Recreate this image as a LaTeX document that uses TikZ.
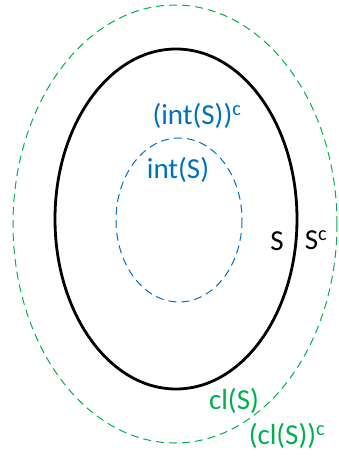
\documentclass[tikz,border=0pt]{standalone}
\usepackage{fontspec}
\setmainfont{Carlito}
\definecolor{cBlue}{HTML}{0070C0}
\definecolor{cGreen}{HTML}{00B050}
\tikzset{
  lbl/.style={inner sep=0pt,font=\fontsize{29}{32}\selectfont},
  setline/.style={draw=black,line width=2.8pt},
  intline/.style={draw=cBlue,dash pattern=on 8pt off 5pt,line width=1pt},
  clline/.style={draw=cGreen,dash pattern=on 8pt off 5pt,line width=1pt},
}
\begin{document}
\begin{tikzpicture}[x=1pt,y=-1pt]
  \useasboundingbox (0,0) rectangle (338,456);
  % sets
  \draw[clline]  (175,224) ellipse [x radius=162,y radius=219];
  \draw[setline] (176,219) ellipse [x radius=121,y radius=170];
  \draw[intline] (179,220) ellipse [x radius=63,y radius=82];
  % labels
  \node[lbl,text=cBlue]  (intc) at (197,116) {(int(S))\textsuperscript{c}};
  \node[lbl,text=cBlue]  (int)  at (178,170) {int(S)};
  \node[lbl]             (s)    at (277,241) {S};
  \node[lbl]             (sc)   at (316,240) {S\textsuperscript{c}};
  \node[lbl,text=cGreen] (cl)   at (234,401) {cl(S)};
  \node[lbl,text=cGreen] (clc)  at (287,436) {(cl(S))\textsuperscript{c}};
\end{tikzpicture}
\end{document}
